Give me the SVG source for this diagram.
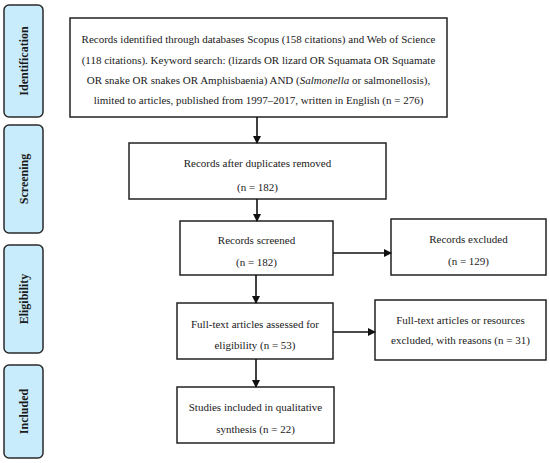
<svg xmlns="http://www.w3.org/2000/svg" width="550" height="463" viewBox="0 0 550 463">
<style>
.stage rect{fill:#c9ecfc;stroke:#2a2a2a;stroke-width:1.5}
.stage text{font-family:"Liberation Serif","DejaVu Serif",serif;font-weight:bold;font-size:12px;fill:#1a1a1a;text-anchor:middle}
.box rect{fill:#fff;stroke:#222;stroke-width:1.5}
.box text{font-family:"Liberation Serif","DejaVu Serif",serif;font-size:11px;fill:#1a1a1a;text-anchor:middle}
.conn line{stroke:#111;stroke-width:1.6;marker-end:url(#ah)}
</style>
<defs>
<marker id="ah" markerWidth="8" markerHeight="8" refX="7" refY="4" orient="auto" markerUnits="userSpaceOnUse">
<path d="M0,0 L8,4 L0,8 Z" fill="#111"/>
</marker>
</defs>
<rect width="550" height="463" fill="#fff"/>
<g id="stage-identification" class="stage"><rect x="4" y="5" width="39" height="112" rx="5"/><text transform="translate(27.5,61) rotate(-90)">Identification</text></g>
<g id="stage-screening" class="stage"><rect x="4" y="125" width="39" height="108" rx="5"/><text transform="translate(27.5,179) rotate(-90)">Screening</text></g>
<g id="stage-eligibility" class="stage"><rect x="4" y="245" width="39" height="108" rx="5"/><text transform="translate(27.5,299) rotate(-90)">Eligibility</text></g>
<g id="stage-included" class="stage"><rect x="4" y="365" width="39" height="93" rx="5"/><text transform="translate(27.5,411.5) rotate(-90)">Included</text></g>

<g id="n-identified" class="box"><rect x="70" y="18" width="377" height="99"/>
<text x="258.5" y="42.5">Records identified through databases Scopus (158 citations) and Web of Science</text>
<text x="258.5" y="63.5">(118 citations). Keyword search: (lizards OR lizard OR Squamata OR Squamate</text>
<text x="258.5" y="83.5">OR snake OR snakes OR Amphisbaenia) AND (<tspan font-style="italic">Salmonella</tspan> or salmonellosis),</text>
<text x="258.5" y="103.5">limited to articles, published from 1997–2017, written in English (n = 276)</text></g>

<g id="n-dedup" class="box"><rect x="129" y="143" width="257" height="56"/>
<text x="257.5" y="166.5">Records after duplicates removed</text>
<text x="257.5" y="190.5">(n = 182)</text></g>

<g id="n-screened" class="box"><rect x="180" y="221" width="153" height="54"/>
<text x="256.5" y="243.5">Records screened</text>
<text x="256.5" y="265.5">(n = 182)</text></g>

<g id="n-excluded" class="box"><rect x="391" y="219" width="155" height="56"/>
<text x="468.5" y="242.5">Records excluded</text>
<text x="468.5" y="264.5">(n = 129)</text></g>

<g id="n-fulltext" class="box"><rect x="177" y="303" width="156" height="56"/>
<text x="255" y="327.5">Full-text articles assessed for</text>
<text x="255" y="348.5">eligibility (n = 53)</text></g>

<g id="n-ft-excluded" class="box"><rect x="375" y="300" width="171" height="60"/>
<text x="460.5" y="323.5">Full-text articles or resources</text>
<text x="460.5" y="343.5">excluded, with reasons (n = 31)</text></g>

<g id="n-included" class="box"><rect x="177" y="387" width="157" height="56"/>
<text x="255.5" y="410.5">Studies included in qualitative</text>
<text x="255.5" y="432.5">synthesis (n = 22)</text></g>

<g id="connectors" class="conn">
<line x1="257" y1="117" x2="257" y2="143"/>
<line x1="257" y1="199" x2="257" y2="221"/>
<line x1="333" y1="253" x2="391" y2="253"/>
<line x1="256" y1="275" x2="256" y2="303"/>
<line x1="333" y1="332" x2="375" y2="332"/>
<line x1="256" y1="359" x2="256" y2="387"/>
</g>
</svg>
